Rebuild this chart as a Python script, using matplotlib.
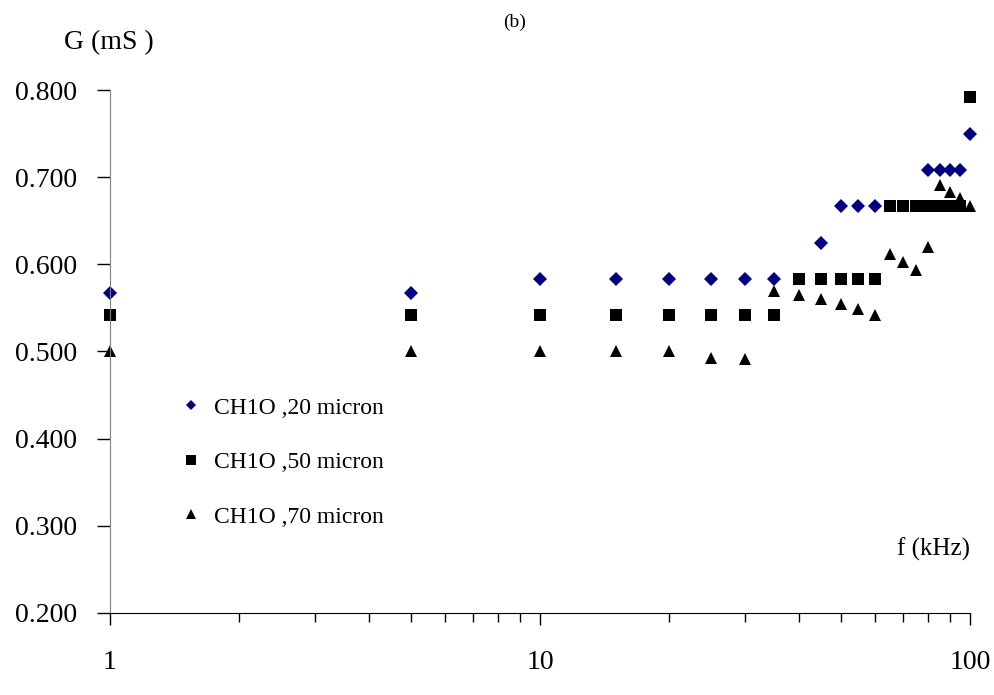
import matplotlib
matplotlib.use("Agg")
import matplotlib.pyplot as plt
from matplotlib.ticker import NullFormatter

plt.rcParams["font.family"] = ["Liberation Serif", "DejaVu Serif"]

# data (f in kHz, G in mS)
freq_20 = [1, 5, 10, 15, 20, 25, 30, 35, 45, 50, 55, 60, 80, 85, 90, 95, 100]
g_20 = [0.567, 0.567, 0.583, 0.583, 0.583, 0.583, 0.583, 0.583, 0.625,
        0.667, 0.667, 0.667, 0.708, 0.708, 0.708, 0.708, 0.750]

freq_50 = [1, 5, 10, 15, 20, 25, 30, 35, 40, 45, 50, 55, 60, 65, 70, 75,
           80, 85, 90, 95, 100]
g_50 = [0.542, 0.542, 0.542, 0.542, 0.542, 0.542, 0.542, 0.542, 0.583,
        0.583, 0.583, 0.583, 0.583, 0.667, 0.667, 0.667, 0.667, 0.667,
        0.667, 0.667, 0.792]

freq_70 = [1, 5, 10, 15, 20, 25, 30, 35, 40, 45, 50, 55, 60, 65, 70, 75,
           80, 85, 90, 95, 100]
g_70 = [0.500, 0.500, 0.500, 0.500, 0.500, 0.493, 0.491, 0.569, 0.565,
        0.560, 0.555, 0.549, 0.542, 0.612, 0.603, 0.594, 0.620, 0.691,
        0.683, 0.676, 0.667]

labels = ["CH1O ,20 micron", "CH1O ,50 micron", "CH1O ,70 micron"]
y_ticks = [0.2, 0.3, 0.4, 0.5, 0.6, 0.7, 0.8]
x_ticks = [1, 10, 100]
x_tick_labels = ["1", "10", "100"]

W, H = 995, 695
fig = plt.figure(figsize=(W / 100, H / 100), dpi=100)
ax = fig.add_axes([110 / W, (H - 613) / H, 860 / W, 523 / H])

ax.plot(freq_20, g_20, "D", color="#000080", ms=6.8, mew=0, clip_on=False,
        label=labels[0])
ax.plot(freq_50, g_50, "s", color="black", ms=8.2, mew=0, clip_on=False,
        label=labels[1])
ax.plot(freq_70, g_70, "^", color="black", ms=8.8, mew=0, clip_on=False,
        label=labels[2])

ax.set_xscale("log")
ax.set_xlim(1, 100)
ax.set_ylim(0.2, 0.8)

ax.spines["top"].set_visible(False)
ax.spines["right"].set_visible(False)
ax.spines["left"].set_color("#808080")
ax.spines["bottom"].set_color("black")

ax.set_yticks(y_ticks, labels=[f"{v:.3f}" for v in y_ticks])
ax.set_xticks(x_ticks, labels=x_tick_labels)
ax.xaxis.set_minor_formatter(NullFormatter())
ax.tick_params(axis="y", direction="out", length=9.4, width=1, pad=14,
               labelsize=20)
ax.tick_params(axis="x", which="major", direction="out", length=8.6,
               width=1, pad=18, labelsize=20)
ax.tick_params(axis="x", which="minor", direction="out", length=6.5,
               width=1)

fig.text(109 / W, 1 - 43 / H, "G (mS )", fontsize=20, ha="center",
         va="center")
fig.text(515 / W, 1 - 22 / H, "(b)", fontsize=14, ha="center", va="center")
fig.text(970 / W, 1 - 549 / H, "f (kHz)", fontsize=18, ha="right",
         va="center")

ax.legend(loc="upper left", bbox_to_anchor=(179 / W, 1 - 397 / H),
          bbox_transform=fig.transFigure, frameon=False, fontsize=17,
          numpoints=1, handlelength=1.0, handletextpad=0.5,
          labelspacing=1.4, borderpad=0, borderaxespad=0, markerscale=0.8)

fig.savefig("out.png", dpi=100)
